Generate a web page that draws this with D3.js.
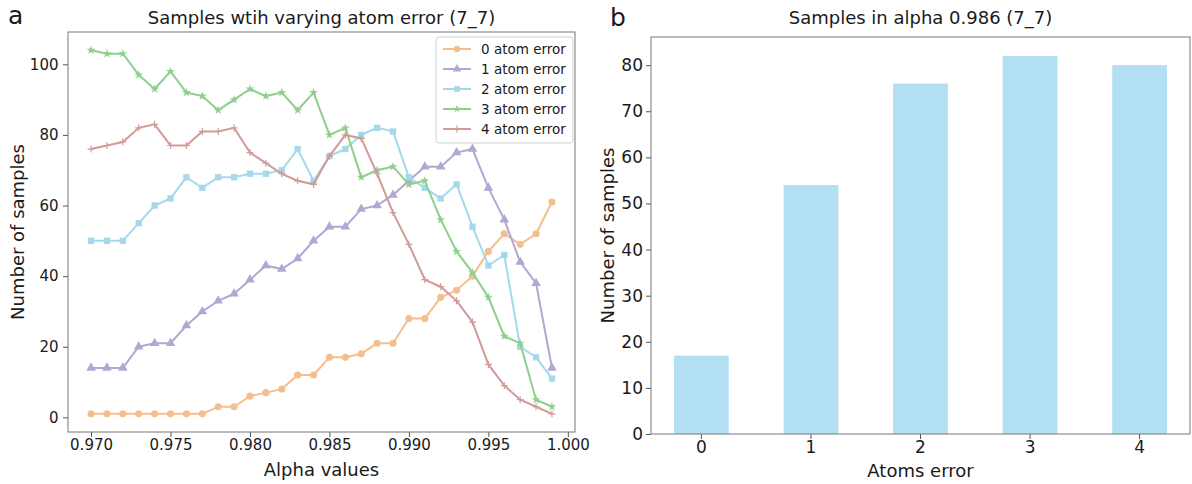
<!DOCTYPE html>
<html><head><meta charset="utf-8">
<script src="https://cdn.jsdelivr.net/npm/d3@7"></script>
<style>body{margin:0;background:#fff}svg{display:block}text{font-family:"DejaVu Sans",sans-serif;fill:#1a1a1a}</style>
</head><body>
<svg id="c" width="1192" height="484"></svg>
<script>
const alphas = [0.970,0.971,0.972,0.973,0.974,0.975,0.976,0.977,0.978,0.979,0.980,0.981,0.982,0.983,0.984,0.985,0.986,0.987,0.988,0.989,0.990,0.991,0.992,0.993,0.994,0.995,0.996,0.997,0.998,0.999];
const err0 = [1,1,1,1,1,1,1,1,3,3,6,7,8,12,12,17,17,18,21,21,28,28,34,36,40,47,52,49,52,61];
const err1 = [14,14,14,20,21,21,26,30,33,35,39,43,42,45,50,54,54,59,60,63,67,71,71,75,76,65,56,44,38,14];
const err2 = [50,50,50,55,60,62,68,65,68,68,69,69,70,76,67,74,76,80,82,81,68,65,62,66,54,43,46,20,17,11];
const err3 = [104,103,103,97,93,98,92,91,87,90,93,91,92,87,92,80,82,68,70,71,66,67,56,47,41,34,23,21,5,3];
const err4 = [76,77,78,82,83,77,77,81,81,82,75,72,69,67,66,74,80,79,69,58,49,39,37,33,27,15,9,5,3,1];
const seriesNames = ["0 atom error","1 atom error","2 atom error","3 atom error","4 atom error"];
const xTicks = [0.970,0.975,0.980,0.985,0.990,0.995,1.000];
const yTicksA = [0,20,40,60,80,100];
const barCats = ["0","1","2","3","4"];
const barVals = [17,54,76,82,80];
const yTicksB = [0,10,20,30,40,50,60,70,80];

const svg = d3.select("#c");
const colors = ["#f3bf8f","#b3a6d4","#a6d8ec","#8fcf8c","#d29a98"];
const symbols = [d3.symbolCircle,d3.symbolTriangle,d3.symbolSquare,d3.symbolStar,d3.symbolCross];
const symSizes = [40,40,40,25,0];
const allSeries = [err0,err1,err2,err3,err4];

// Panel a
const A = {l:68,r:575,t:32,b:432};
const xA = d3.scaleLinear().domain([0.96855,1.00045]).range([A.l,A.r]);
const yA = d3.scaleLinear().domain([-4.15,109.15]).range([A.b,A.t]);
const gA = svg.append("g");
gA.append("g").attr("transform",`translate(0,${A.b})`)
  .call(d3.axisBottom(xA).tickValues(xTicks).tickFormat(d3.format(".3f")).tickSize(5).tickPadding(2).tickSizeOuter(0))
  .call(g=>g.select(".domain").remove())
  .call(g=>g.selectAll("line").attr("stroke","#555"))
  .call(g=>g.selectAll("text").attr("font-size",15).style("font-family","DejaVu Sans"));
gA.append("g").attr("transform",`translate(${A.l},0)`)
  .call(d3.axisLeft(yA).tickValues(yTicksA).tickSize(5).tickSizeOuter(0))
  .call(g=>g.select(".domain").remove())
  .call(g=>g.selectAll("line").attr("stroke","#555"))
  .call(g=>g.selectAll("text").attr("font-size",15).attr("dx","-0.1em").style("font-family","DejaVu Sans"));
gA.append("rect").attr("x",A.l).attr("y",A.t).attr("width",A.r-A.l).attr("height",A.b-A.t)
  .attr("fill","none").attr("stroke","#777").attr("stroke-width",1);

const line = d3.line().x((d,i)=>xA(alphas[i])).y(d=>yA(d));
allSeries.forEach((s,k)=>{
  const g = gA.append("g");
  g.append("path").datum(s).attr("d",line).attr("fill","none").attr("stroke",colors[k]).attr("stroke-width",2);
  if(k<4){
    g.selectAll("path.m").data(s).enter().append("path").attr("class","m")
      .attr("transform",(d,i)=>`translate(${xA(alphas[i])},${yA(d)})`)
      .attr("d",d3.symbol().type(symbols[k]).size(symSizes[k])).attr("fill",colors[k]);
  } else {
    g.selectAll("path.m").data(s).enter().append("path").attr("class","m")
      .attr("transform",(d,i)=>`translate(${xA(alphas[i])},${yA(d)})`)
      .attr("d","M-3.5,0H3.5M0,-3.5V3.5").attr("stroke",colors[k]).attr("stroke-width",1.2);
  }
});
// legend
const L = gA.append("g").attr("transform","translate(436,37)");
L.append("rect").attr("width",137).attr("height",106).attr("rx",3).attr("fill","#fff").attr("fill-opacity",0.85).attr("stroke","#d0d0d0");
seriesNames.forEach((n,k)=>{
  const y = 12 + k*20;
  L.append("line").attr("x1",7).attr("x2",35).attr("y1",y).attr("y2",y).attr("stroke",colors[k]).attr("stroke-width",2);
  if(k<4) L.append("path").attr("transform",`translate(21,${y})`).attr("d",d3.symbol().type(symbols[k]).size(symSizes[k]*0.8)).attr("fill",colors[k]);
  else L.append("path").attr("transform",`translate(21,${y})`).attr("d","M-3.5,0H3.5M0,-3.5V3.5").attr("stroke",colors[k]).attr("stroke-width",1.2);
  L.append("text").attr("x",45).attr("y",y).attr("dy","0.35em").attr("font-size",13.5).text(n);
});
gA.append("text").attr("x",(A.l+A.r)/2).attr("y",24).attr("text-anchor","middle").attr("font-size",18).text("Samples wtih varying atom error (7_7)");
gA.append("text").attr("x",(A.l+A.r)/2).attr("y",476).attr("text-anchor","middle").attr("font-size",18).text("Alpha values");
gA.append("text").attr("transform",`translate(24,${(A.t+A.b)/2}) rotate(-90)`).attr("text-anchor","middle").attr("font-size",18).text("Number of samples");
gA.append("text").attr("x",8).attr("y",24).attr("font-size",25).text("a");

// Panel b
const B = {l:651,r:1190,t:37,b:434};
const xB = d3.scaleBand().domain(barCats).range([B.l,B.r]).paddingInner(0.5).paddingOuter(0.21);
const yB = d3.scaleLinear().domain([0,86.1]).range([B.b,B.t]);
const gB = svg.append("g");
gB.selectAll("rect.bar").data(barVals).enter().append("rect").attr("class","bar")
  .attr("x",(d,i)=>xB(barCats[i])).attr("width",xB.bandwidth())
  .attr("y",d=>yB(d)).attr("height",d=>yB(0)-yB(d)).attr("fill","#b3dff3");
gB.append("g").attr("transform",`translate(0,${B.b})`)
  .call(d3.axisBottom(xB).tickSize(5).tickPadding(2).tickSizeOuter(0))
  .call(g=>g.select(".domain").remove())
  .call(g=>g.selectAll("line").attr("stroke","#555"))
  .call(g=>g.selectAll("text").attr("font-size",17).style("font-family","DejaVu Sans"));
gB.append("g").attr("transform",`translate(${B.l},0)`)
  .call(d3.axisLeft(yB).tickValues(yTicksB).tickSize(5).tickSizeOuter(0))
  .call(g=>g.select(".domain").remove())
  .call(g=>g.selectAll("line").attr("stroke","#555"))
  .call(g=>g.selectAll("text").attr("font-size",17).style("font-family","DejaVu Sans"));
gB.append("rect").attr("x",B.l).attr("y",B.t).attr("width",B.r-B.l).attr("height",B.b-B.t)
  .attr("fill","none").attr("stroke","#777").attr("stroke-width",1);
gB.append("text").attr("x",(B.l+B.r)/2).attr("y",24).attr("text-anchor","middle").attr("font-size",18).text("Samples in alpha 0.986 (7_7)");
gB.append("text").attr("x",(B.l+B.r)/2).attr("y",477).attr("text-anchor","middle").attr("font-size",18).text("Atoms error");
gB.append("text").attr("transform",`translate(614,${(B.t+B.b)/2}) rotate(-90)`).attr("text-anchor","middle").attr("font-size",18).text("Number of samples");
gB.append("text").attr("x",610).attr("y",26).attr("font-size",25).text("b");
</script>
</body></html>
